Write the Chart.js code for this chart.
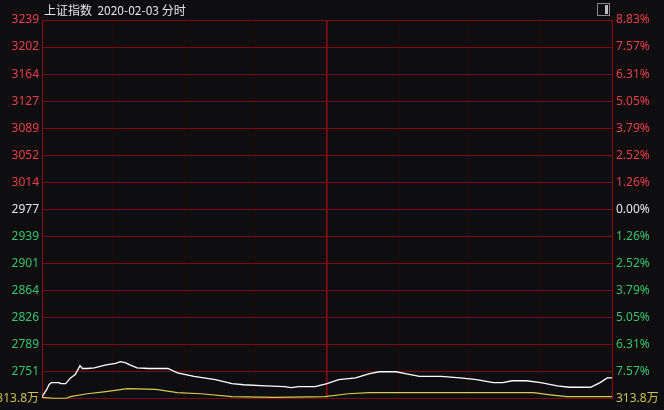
<!DOCTYPE html>
<html>
<head>
<meta charset="utf-8">
<script src="https://cdn.jsdelivr.net/npm/chart.js@4"></script>
<style>
  html, body { margin: 0; padding: 0; background: #0e0e11; }
  #wrap { position: relative; width: 664px; height: 410px; background: #0e0e11; overflow: hidden; }
  #title { position: absolute; left: 44px; top: 1px; font: 12px "Noto Sans CJK SC", "Noto Sans", sans-serif; color: #e6e6e6; white-space: pre; }
  #icon { position: absolute; left: 597px; top: 3px; width: 11px; height: 11px; border: 1px solid #8a8a8a; }
  #icon span { position: absolute; right: 1px; top: 1px; width: 3px; height: 9px; background: #bdbdbd; }
</style>
</head>
<body>
<div id="wrap">
  <canvas id="c" width="664" height="410"></canvas>
  <div id="title">上证指数  2020-02-03 分时</div>
  <div id="icon"><span></span></div>
</div>
<script>
// ---- data ----
const priceMinutes = [0, 2, 3, 4, 7, 8, 10, 12, 14, 16, 17, 19, 22, 27, 31, 33, 35, 37, 40, 45, 53, 57, 64, 73, 80, 85, 94, 102, 105, 108, 115, 120, 125, 132, 138, 142, 149, 153, 159, 168, 176, 183, 190, 194, 198, 204, 210, 217, 222, 231, 235, 238, 240];
const priceValues  = [2717, 2727, 2734, 2736.5, 2736.5, 2735, 2735, 2743, 2747.5, 2760, 2756, 2756, 2757, 2761, 2763, 2765.5, 2764, 2761, 2757, 2756, 2756, 2750, 2745, 2740.5, 2735, 2733.5, 2732, 2731, 2729.5, 2731, 2731, 2735, 2740.5, 2743, 2749, 2751.5, 2751.5, 2749, 2745, 2745, 2743, 2740.5, 2736.5, 2736.5, 2739, 2739, 2736.5, 2732, 2730, 2730, 2736.5, 2743, 2743];
const avgMinutes = [0, 5, 10, 12, 19, 27, 36, 48, 57, 67, 80, 98, 119, 129, 138, 180, 207, 214, 221, 240];
const avgValues  = [2716, 2714.5, 2714.5, 2717, 2721, 2724, 2728, 2727, 2722.5, 2721, 2717, 2716, 2717, 2721, 2722.5, 2722.5, 2722.5, 2719.5, 2717, 2717];
const leftTickLabels  = ['3239', '3202', '3164', '3127', '3089', '3052', '3014', '2977', '2939', '2901', '2864', '2826', '2789', '2751', '313.8万'];
const rightTickLabels = ['8.83%', '7.57%', '6.31%', '5.05%', '3.79%', '2.52%', '1.26%', '0.00%', '1.26%', '2.52%', '3.79%', '5.05%', '6.31%', '7.57%', '313.8万'];
const timeTicks = [0, 30, 60, 90, 120, 150, 180, 210, 240];
const yMax = 3239;
const yMin = 2714;

// ---- styles ----
const RED = '#e8404a', GREEN = '#38c46a', WHITE = '#e8e8e8', YELLOW = '#cfc14e';
const step = (yMax - yMin) / (leftTickLabels.length - 1);
function labelColor(i) {
  if (i === leftTickLabels.length - 1) return YELLOW;
  if (i < 7) return RED;
  if (i === 7) return WHITE;
  return GREEN;
}
const yTickValues = leftTickLabels.map((_, i) => yMax - i * step);
const xGridColors = timeTicks.map(v => (v % 120 === 0) ? 'rgb(140,12,18)' : 'rgb(40,9,11)');
const xGridWidths = timeTicks.map(v => (v === 120) ? 1.6 : 1);

new Chart(document.getElementById('c'), {
  type: 'line',
  data: {
    datasets: [
      {
        data: priceMinutes.map((m, i) => ({ x: m, y: priceValues[i] })),
        borderColor: '#ffffff', borderWidth: 1.3, pointRadius: 0, tension: 0, yAxisID: 'y'
      },
      {
        data: avgMinutes.map((m, i) => ({ x: m, y: avgValues[i] })),
        borderColor: '#d8cc50', borderWidth: 1.2, pointRadius: 0, tension: 0, yAxisID: 'y'
      }
    ]
  },
  options: {
    responsive: false,
    animation: false,
    events: [],
    layout: { padding: { top: 20, bottom: 10, left: 0, right: 0 } },
    plugins: { legend: { display: false }, tooltip: { enabled: false } },
    scales: {
      x: {
        type: 'linear', min: 0, max: 240,
        afterBuildTicks: s => { s.ticks = timeTicks.map(v => ({ value: v })); },
        ticks: { display: false },
        border: { display: false },
        grid: {
          drawTicks: false,
          lineWidth: xGridWidths,
          color: xGridColors
        },
        afterFit: s => { s.height = 0; }
      },
      y: {
        position: 'left', min: yMin, max: yMax,
        afterBuildTicks: s => { s.ticks = yTickValues.map(v => ({ value: v })); },
        ticks: {
          padding: 3,
          autoSkip: false,
          font: { family: '"Noto Sans", "Noto Sans CJK SC", sans-serif', size: 12 },
          color: ctx => labelColor(ctx.index),
          callback: (v, i) => leftTickLabels[i]
        },
        border: { display: false },
        grid: { drawTicks: false, color: '#7e0a10', lineWidth: 1 },
        afterFit: s => { s.width = 42; }
      },
      y2: {
        position: 'right', min: yMin, max: yMax,
        afterBuildTicks: s => { s.ticks = yTickValues.map(v => ({ value: v })); },
        ticks: {
          padding: 4,
          autoSkip: false,
          font: { family: '"Noto Sans", "Noto Sans CJK SC", sans-serif', size: 12 },
          color: ctx => labelColor(ctx.index),
          callback: (v, i) => rightTickLabels[i]
        },
        border: { display: false },
        grid: { display: false, drawTicks: false },
        afterFit: s => { s.width = 52; }
      }
    }
  }
});
</script>
</body>
</html>
